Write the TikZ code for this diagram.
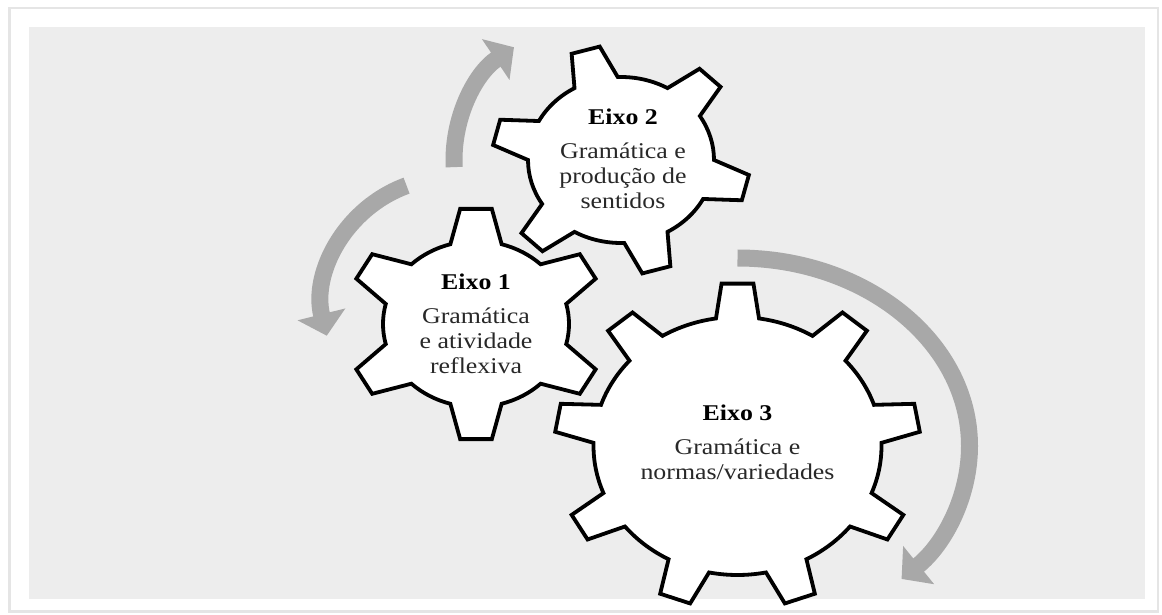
\documentclass[tikz,border=0pt]{standalone}
\usepackage{fontspec}
\setmainfont{Liberation Serif}[FakeStretch=1.15]
\usetikzlibrary{math,calc,arrows.meta}

\definecolor{panelgray}{RGB}{237,237,237}
\definecolor{flowgray}{RGB}{168,168,168}
\definecolor{textgray}{RGB}{40,40,40}

\begin{document}
\begin{tikzpicture}[x=1pt,y=1pt,
	gear/.style={draw=black,fill=white,line width=3.8pt,line join=miter},
	flow/.style={draw=flowgray,line width=17pt,-{Triangle[width=48pt,length=22pt]}},
	axistext/.style={align=center,text=textgray,font=\fontsize{22.5}{25}\selectfont}]
	
	\tikzmath{
		% gear 1
		\aA = 90; \tA = 7; \bA = 16;
		\RxA = 130; \RyA = 116; \rxA = 93; \ryA = 83;
		% gear 2
		\aB = 106; \tB = 6.5; \bB = 14;
		\RxB = 129; \RyB = 115; \rxB = 93; \ryB = 83;
		% gear 3
		\aC = 90; \tC = 5; \bC = 8.6;
		\RxC = 183; \RyC = 163; \rxC = 144; \ryC = 129;
	}
	
	\useasboundingbox (0,0) rectangle (1162,614);
	
	%---------------------------------------------
	
	\fill [black!10] (8,1) rectangle (1159,607);
	\fill [white] (11,4) rectangle (1157,605);
	\fill [panelgray] (29,15) rectangle (1145,587);
	
	\coordinate (g1) at (476,290);
	\coordinate (g2) at (621,454);
	\coordinate (g3) at (737.5,168);
	\coordinate (cA) at (450,309);
	\coordinate (cB) at (590,454);
	
	%---------------------------------------------
	
	\coordinate (fA) at ($(cA)+(110:127pt)$);
	\coordinate (fB) at ($(cB)+(183:136pt)$);
	\coordinate (fC) at ($(g3)+(90:232pt and 188pt)$);
	
	\draw [flow] (fA) arc [start angle=110, end angle=194, radius=127pt];
	\draw [flow] (fB) arc [start angle=183, end angle=124, radius=136pt];
	\draw [flow] (fC) arc [start angle=90, end angle=-45, x radius=232pt, y radius=188pt];
	
	%---------------------------------------------
	
	\draw [gear] ($(g1)+({\aA-\bA}:\rxA pt and \ryA pt)$)
		\foreach \k in {0,...,5} {
			-- ($(g1)+({\aA+60*\k-\tA}:\RxA pt and \RyA pt)$)
			-- ($(g1)+({\aA+60*\k+\tA}:\RxA pt and \RyA pt)$)
			-- ($(g1)+({\aA+60*\k+\bA}:\rxA pt and \ryA pt)$)
			arc [start angle={\aA+60*\k+\bA}, end angle={\aA+60*(\k+1)-\bA}, x radius=\rxA pt, y radius=\ryA pt]
		} -- cycle;
	
	\draw [gear] ($(g2)+({\aB-\bB}:\rxB pt and \ryB pt)$)
		\foreach \k in {0,...,5} {
			-- ($(g2)+({\aB+60*\k-\tB}:\RxB pt and \RyB pt)$)
			-- ($(g2)+({\aB+60*\k+\tB}:\RxB pt and \RyB pt)$)
			-- ($(g2)+({\aB+60*\k+\bB}:\rxB pt and \ryB pt)$)
			arc [start angle={\aB+60*\k+\bB}, end angle={\aB+60*(\k+1)-\bB}, x radius=\rxB pt, y radius=\ryB pt]
		} -- cycle;
	
	\draw [gear] ($(g3)+({\aC-\bC}:\rxC pt and \ryC pt)$)
		\foreach \k in {0,...,8} {
			-- ($(g3)+({\aC+40*\k-\tC}:\RxC pt and \RyC pt)$)
			-- ($(g3)+({\aC+40*\k+\tC}:\RxC pt and \RyC pt)$)
			-- ($(g3)+({\aC+40*\k+\bC}:\rxC pt and \ryC pt)$)
			arc [start angle={\aC+40*\k+\bC}, end angle={\aC+40*(\k+1)-\bC}, x radius=\rxC pt, y radius=\ryC pt]
		} -- cycle;
	
	%---------------------------------------------
	
	\node [axistext] (t1) at (g1) {\textcolor{black}{\textbf{Eixo 1}}\\[9pt]Gramática\\e atividade\\reflexiva};
	\node [axistext] (t2) at ($(g2)+(2,1)$) {\textcolor{black}{\textbf{Eixo 2}}\\[9pt]Gramática e\\produção de\\sentidos};
	\node [axistext] (t3) at ($(g3)+(0,4)$) {\textcolor{black}{\textbf{Eixo 3}}\\[9pt]Gramática e\\normas/variedades};
	
	%---------------------------------------------
	
\end{tikzpicture}
\end{document}
